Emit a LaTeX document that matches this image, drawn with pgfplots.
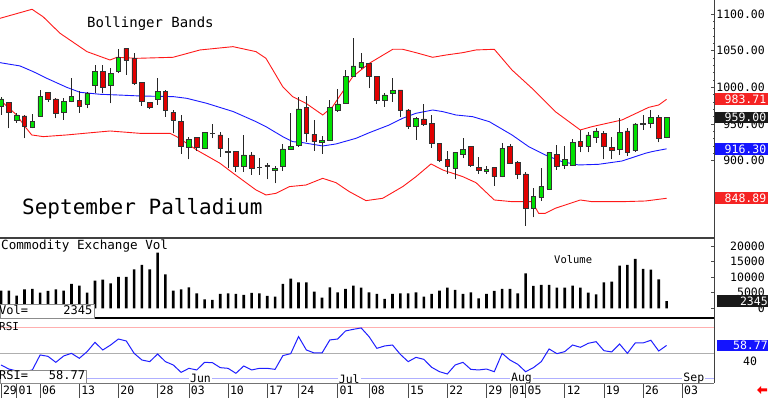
\documentclass[border=0pt]{standalone}
\usepackage{pgfplots}
\pgfplotsset{compat=1.18}
\usepackage{pgfplotstable}
\usepackage{fontspec}
\setmainfont{DejaVu Sans Mono}
\definecolor{cgreen}{RGB}{0,225,0}
\definecolor{cred}{RGB}{225,0,0}
\definecolor{bandred}{RGB}{255,25,25}
\definecolor{bandblue}{RGB}{25,25,255}
\definecolor{rsiblue}{RGB}{30,30,255}
\definecolor{line80}{RGB}{255,175,175}
\definecolor{line50}{RGB}{175,175,175}
\definecolor{line20}{RGB}{175,175,255}
\definecolor{boxred}{RGB}{245,35,35}
\definecolor{boxblue}{RGB}{20,20,255}
\definecolor{boxblack}{RGB}{25,25,25}

% candles: index, open, high, low, close
\pgfplotstableread{
x O H L C
0 973.8 987.4 962.4 984.2
2 954.7 964.7 952.0 962.4
4 945.6 963.8 944.3 953.3
5 961.1 996.5 960.1 987.4
8 966.0 985.1 955.6 980.6
9 980.6 1012.4 979.7 987.4
11 977.4 994.2 971.5 991.9
12 1003.3 1030.5 991.9 1021.4
14 1003.3 1026.0 978.3 1019.2
15 1021.4 1051.9 1019.2 1041.0
20 983.7 1012.4 976.0 994.2
24 918.4 932.9 902.0 929.3
26 917.0 939.7 915.6 938.3
29 911.6 930.6 889.8 912.4
31 892.9 935.2 885.2 907.9
33 890.7 903.4 880.7 891.5
35 887.5 893.4 869.3 889.8
36 892.0 922.9 886.1 916.1
37 916.1 965.6 914.7 919.3
38 920.6 987.4 919.3 970.6
41 924.7 933.8 909.3 927.9
42 928.4 982.8 927.4 972.8
43 968.3 997.4 967.0 977.4
44 978.3 1023.7 977.4 1015.5
45 1015.5 1066.9 1014.6 1029.2
46 1026.9 1047.3 1025.1 1034.2
49 981.9 992.8 973.8 989.7
50 991.9 1012.4 980.6 995.6
53 946.5 960.1 928.4 957.9
58 889.8 912.5 874.8 911.1
59 909.3 930.6 903.4 915.6
62 885.2 892.9 882.0 888.8
64 878.4 923.8 877.5 917.0
68 835.3 863.4 823.0 851.2
69 850.2 890.7 845.3 864.8
70 861.6 911.6 861.6 911.1
72 894.3 920.2 888.8 902.0
73 894.3 929.3 893.4 924.7
75 919.3 939.7 911.6 935.2
76 931.5 944.3 924.7 940.6
79 915.6 957.9 907.9 938.3
81 913.8 951.1 912.5 950.2
83 951.1 969.2 944.3 959.2
85 932.0 959.0 930.6 959.0
}\greenC

\pgfplotstableread{
x O H L C
1 979.7 980.6 944.3 965.6
3 961.1 962.4 930.6 946.5
6 992.8 994.2 980.6 983.7
7 984.2 985.1 957.9 964.7
10 982.8 995.6 965.6 973.8
13 1021.4 1030.5 991.9 1000.1
16 1053.2 1054.1 1016.9 1037.3
17 1039.6 1046.4 1003.3 1005.5
18 1006.4 1007.8 974.7 981.5
19 979.7 980.6 970.1 972.8
21 994.2 996.5 960.1 968.3
22 966.0 969.2 937.4 955.6
23 953.3 962.4 909.3 920.2
25 932.0 932.9 913.8 918.4
27 937.8 950.2 930.6 936.9
28 935.2 939.7 905.6 917.0
30 912.5 912.5 885.2 892.9
32 907.9 912.5 880.7 889.8
34 893.8 896.6 874.8 893.0
39 972.8 988.3 926.1 937.4
40 936.1 955.6 913.8 926.1
47 1032.8 1033.7 998.7 1014.6
48 1015.5 1015.5 977.4 982.8
51 996.5 996.5 959.2 968.3
52 969.2 970.1 943.3 946.5
54 957.0 976.9 947.4 950.2
55 951.1 962.4 917.9 923.8
56 923.8 924.7 897.9 900.2
57 902.0 913.8 882.0 892.0
60 919.3 920.2 892.0 893.4
61 890.7 904.7 882.0 886.6
63 890.7 892.0 866.1 878.4
65 919.3 922.9 895.7 896.6
66 897.9 899.7 874.8 882.0
67 882.0 885.2 811.2 835.3
71 908.8 921.5 887.5 892.0
74 926.1 942.0 911.6 919.3
77 937.4 940.6 902.0 919.3
78 917.9 932.9 902.0 914.7
80 940.6 944.3 907.0 911.1
82 950.6 962.4 942.0 949.7
84 959.2 962.4 925.2 930.6
}\redC

\pgfplotstableread{
x y
-0.13 1094.1
3.96 1106.4
5.36 1096.4
7.54 1073.7
10.98 1048.7
13.92 1037.3
14.81 1041.0
17.37 1039.6
21.97 1041.0
25.42 1051.0
29.63 1055.5
32.57 1048.7
33.84 1039.6
35.98 1001.0
37.25 987.4
38.95 978.3
41.09 962.4
42.36 973.8
44.92 1014.6
47.04 1032.8
50.03 1051.9
51.30 1051.9
53.00 1047.3
55.13 1041.0
56.83 1044.1
58.97 1047.3
60.66 1051.0
63.00 1051.9
65.26 1023.7
67.82 998.7
70.79 967.0
73.98 942.0
75.48 946.5
79.31 955.6
82.72 972.8
84.00 976.0
85.00 983.71
}\bbup

\pgfplotstableread{
x y
-0.13 1033.7
2.43 1029.2
4.13 1021.4
5.84 1012.4
8.39 1000.1
10.09 993.3
12.64 990.6
14.78 989.7
17.75 988.3
22.00 987.4
23.72 985.1
26.27 978.3
29.67 967.0
32.57 953.3
33.84 946.5
35.98 932.9
37.25 926.1
38.53 924.7
41.09 920.2
42.78 922.9
45.34 930.6
47.04 938.3
49.59 948.8
51.30 957.9
53.00 964.7
55.13 969.2
56.41 967.0
58.11 962.4
60.24 960.1
62.36 953.3
65.26 935.2
67.39 919.3
69.51 907.9
71.65 898.8
73.78 894.3
76.33 895.2
79.31 899.7
82.29 910.2
83.14 912.5
85.00 916.30
}\bbmid

\pgfplotstableread{
x y
-0.13 982.8
2.00 962.4
3.07 946.5
3.92 935.2
5.40 932.9
8.39 935.2
13.92 940.6
17.75 937.4
21.58 937.4
22.44 932.9
24.99 914.7
27.97 896.6
29.67 882.9
32.57 860.2
33.84 853.4
35.12 855.7
36.82 864.8
38.95 867.0
41.09 876.1
42.78 870.2
44.48 858.0
46.61 845.7
48.75 848.9
51.30 864.8
53.00 878.4
54.92 895.7
56.41 887.5
58.97 878.4
60.66 870.2
63.00 846.6
65.26 844.3
67.82 844.3
68.67 828.4
69.51 828.4
70.79 835.3
72.07 839.8
73.98 846.6
75.48 844.3
79.31 844.3
82.29 845.2
85.00 848.89
}\bblow

\pgfplotstableread{
x v
0 5660
1 5660
2 4058
3 6088
4 6194
5 5020
6 5554
7 6088
8 5660
9 7796
10 7262
11 5020
12 8864
13 9185
14 8010
15 10039
16 10039
17 12496
18 13884
19 12496
20 17836
21 10894
22 5660
23 6088
24 6728
25 4806
26 2884
27 2670
28 4592
29 4806
30 4592
31 4272
32 4913
33 4806
34 3952
35 3738
36 7796
37 9505
38 8330
39 8330
40 5340
41 3418
42 6728
43 5126
44 6194
45 7262
46 6622
47 5126
48 4592
49 2990
50 4592
51 4806
52 4806
53 5126
54 3738
55 4592
56 5660
57 6622
58 5874
59 4592
60 5126
61 3204
62 4592
63 5554
64 6194
65 6194
66 4806
67 11214
68 7156
69 7476
70 7476
71 6622
72 6622
73 7262
74 6622
75 5020
76 4486
77 8330
78 8544
79 13670
80 13884
81 15806
82 12602
83 12389
84 9292
85 2345
}\vol

\pgfplotstableread{
x r
0 36.0
1 31.3
2 29.0
3 28.2
4 30.2
5 47.7
6 46.1
7 39.1
8 46.5
9 49.6
10 43.8
11 51.6
12 62.4
13 53.5
14 59.3
15 66.3
16 64.0
17 49.6
18 41.8
19 39.9
20 48.8
21 39.9
22 36.0
23 27.4
24 32.1
25 30.2
26 39.1
27 38.7
28 32.9
29 32.1
30 26.3
31 34.8
32 30.2
33 32.1
34 32.1
35 30.9
36 46.9
37 49.2
38 69.1
39 53.5
40 50.0
41 50.0
42 65.2
43 66.3
44 75.7
45 77.6
46 79.2
47 69.1
48 55.4
49 58.2
50 59.3
51 48.4
52 39.9
53 44.9
54 42.6
55 33.3
56 28.2
57 25.5
58 36.0
59 39.1
60 30.9
61 30.2
62 31.3
63 28.2
64 49.6
65 41.8
66 36.8
67 28.2
68 32.9
69 39.9
70 54.7
71 49.2
72 51.6
73 59.3
74 56.6
75 61.3
76 63.2
77 52.7
78 51.2
79 60.5
80 49.6
81 61.7
82 61.7
83 64.8
84 52.3
85 58.77
}\rsi

\pgfplotsset{
  panel/.style={scale only axis, width=714pt, xmin=-0.128, xmax=91.06,
    axis line style={draw=none}, tick style={black!70, line width=0.6pt},
    anchor=south west},
  rlabels/.style={yticklabel pos=right, ytick pos=right, xtick=\empty,
    tick align=inside, major tick length=3pt,
    yticklabel style={anchor=east, xshift=51pt, inner sep=0pt,
      font=\fontsize{11.5}{12}\selectfont}},
  pricebody/.style={panel, at={(0pt,160pt)}, height=238pt, ymin=794.8, ymax=1119.07,
    hide axis, ybar stacked, bar width=4.6pt},
  wick/.style={draw=none, mark=none, error bars/.cd, y dir=plus, y explicit, error mark=none,
    error bar style={draw=black!85, line width=0.9pt}},
}

\begin{document}
\begin{tikzpicture}[x=1pt,y=1pt]
\useasboundingbox (0,0) rectangle (768,398);

% ---------- price panel ----------
\begin{axis}[panel, rlabels, at={(0pt,160pt)}, height=238pt, ymin=794.8, ymax=1119.07,
  ytick={900,950,1000,1050,1100}, minor y tick num=4, minor tick length=1.5pt,
  yticklabel style={/pgf/number format/.cd, fixed, fixed zerofill, precision=2, 1000 sep={}, assume math mode=true}]
\addplot[bandred, line width=0.9pt] table[x=x, y=y] {\bbup};
\addplot[bandblue, line width=0.9pt] table[x=x, y=y] {\bbmid};
\addplot[bandred, line width=0.9pt] table[x=x, y=y] {\bblow};
\addplot[wick] table[x=x, y=L, y error expr=\thisrow{H}-\thisrow{L}] {\greenC};
\addplot[wick] table[x=x, y=L, y error expr=\thisrow{H}-\thisrow{L}] {\redC};
\coordinate (pUp) at (axis cs:91.06,983.71);
\coordinate (pLast) at (axis cs:91.06,959.00);
\coordinate (pMid) at (axis cs:91.06,916.30);
\coordinate (pLow) at (axis cs:91.06,848.89);
\end{axis}

% green bodies
\begin{axis}[pricebody]
\addplot[draw=none, fill=none] table[x=x, y=O] {\greenC};
\addplot[draw=black!80, fill=cgreen, line width=0.6pt] table[x=x, y expr=\thisrow{C}-\thisrow{O}] {\greenC};
\end{axis}
% red bodies
\begin{axis}[pricebody]
\addplot[draw=none, fill=none] table[x=x, y=C] {\redC};
\addplot[draw=black!80, fill=cred, line width=0.6pt] table[x=x, y expr=\thisrow{O}-\thisrow{C}] {\redC};
\end{axis}

% ---------- volume panel ----------
\begin{axis}[panel, rlabels, at={(0pt,80pt)}, height=80pt, ymin=-3097, ymax=22535,
  ytick={0,5000,10000,15000,20000}, scaled y ticks=false,
  yticklabel style={/pgf/number format/.cd, 1000 sep={}, assume math mode=true}]
\addplot[ybar, bar width=2.6pt, fill=black, draw=none] table[x=x, y=v] {\vol};
\coordinate (vLast) at (axis cs:91.06,2345);
\end{axis}

% ---------- RSI panel ----------
\begin{axis}[panel, at={(0pt,15pt)}, height=65pt, ymin=15, ymax=90.8,
  ytick={40}, yticklabel pos=right, ytick pos=right,
  tick align=outside, major tick length=15pt,
  y tick style={draw=none},
  yticklabel style={anchor=west, xshift=14pt, inner sep=0pt, font=\fontsize{11.5}{12}\selectfont,
    /pgf/number format/assume math mode=true},
  xtick={0,2,5,10,15,20,24,29,34,38,43,47,52,57,62,65,67,72,77,82,87},
  xticklabels={29,01,06,13,20,28,03,10,17,24,01,08,15,22,29,01,05,12,19,26,03},
  xtick pos=bottom,
  x tick style={black!70, line width=0.8pt},
  xticklabel style={anchor=base west, inner sep=0pt, xshift=1.8pt, yshift=3pt,
    font=\fontsize{11.5}{12}\selectfont}]
\addplot[line80, line width=0.8pt] coordinates {(-0.128,80) (91.06,80)};
\addplot[line50, line width=0.8pt] coordinates {(-0.128,50) (91.06,50)};
\addplot[line20, line width=0.8pt] coordinates {(-0.128,20) (91.06,20)};
\addplot[rsiblue, line width=1pt] table[x=x, y=r] {\rsi};
\node[anchor=west, fill=white, inner xsep=1pt, inner ysep=0.5pt, font=\fontsize{11.5}{12}\selectfont] at (axis cs:24,20) {Jun};
\node[anchor=west, fill=white, inner xsep=1pt, inner ysep=0.5pt, font=\fontsize{11.5}{12}\selectfont] at (axis cs:43,20) {Jul};
\node[anchor=west, fill=white, inner xsep=1pt, inner ysep=0.5pt, font=\fontsize{11.5}{12}\selectfont] at (axis cs:65,20) {Aug};
\node[anchor=west, fill=white, inner xsep=1pt, inner ysep=0.5pt, font=\fontsize{11.5}{12}\selectfont] at (axis cs:87,20) {Sep};
\coordinate (rLast) at (axis cs:91.06,58.77);
\end{axis}

% ---------- frame lines ----------
\draw[black!75, line width=2pt] (0,160) -- (714,160);
\draw[black, line width=2pt] (0,80) -- (714,80);
\draw[black!55, line width=0.8pt] (0,15) -- (714,15);
\draw[black!75, line width=1pt] (714,15) -- (714,398);

% ---------- texts ----------
\node[anchor=base west, inner sep=0pt, font=\fontsize{14}{16}\selectfont] at (87,370.7) {Bollinger Bands};
\node[anchor=base west, inner sep=0pt, font=\fontsize{21}{24}\selectfont] at (22,183) {September Palladium};
\node[anchor=base west, inner sep=0pt, font=\fontsize{12.6}{14}\selectfont] at (1,148) {Commodity Exchange Vol};
\node[anchor=base west, inner sep=0pt, font=\fontsize{10.5}{12}\selectfont] at (554,134) {Volume};
\node[anchor=base west, inner sep=0pt, font=\fontsize{11}{12}\selectfont] at (-1,67.3) {RSI};

% value boxes
\node[draw=black!45, fill=white, anchor=south west, inner sep=0pt, minimum width=94pt, minimum height=14pt] at (0,80) {};
\node[anchor=base west, inner sep=0pt, font=\fontsize{12}{13}\selectfont] at (-1,83) {Vol=};
\node[anchor=base east, inner sep=0pt, font=\fontsize{12}{13}\selectfont] at (92.5,83) {2345};
\node[draw=black!45, fill=white, anchor=south west, inner sep=0pt, minimum width=86pt, minimum height=13pt] at (0,15) {};
\node[anchor=base west, inner sep=0pt, font=\fontsize{12}{13}\selectfont] at (-1,18) {RSI=};
\node[anchor=base east, inner sep=0pt, font=\fontsize{12}{13}\selectfont] at (85.3,18) {58.77};

\tikzset{vbox/.style={anchor=west, text=white, inner xsep=2pt, inner ysep=0pt,
  minimum height=11.7pt, text width=49pt, align=right, font=\fontsize{11.5}{12}\selectfont}}
\node[vbox, fill=boxred] at ([xshift=1pt]pUp) {983.71};
\node[vbox, fill=boxblack] at ([xshift=1pt]pLast) {959.00};
\node[vbox, fill=boxblue] at ([xshift=1pt]pMid) {916.30};
\node[vbox, fill=boxred] at ([xshift=1pt]pLow) {848.89};
\node[vbox, fill=boxblack] at ([xshift=2.5pt]vLast) {2345};
\node[vbox, fill=boxblue] at ([xshift=2.5pt]rLast) {58.77};

% red arrow
\fill[red] (757,8) -- (761,12) -- (761,9.5) -- (767,9.5) -- (767,6.5) -- (761,6.5) -- (761,4) -- cycle;
\end{tikzpicture}
\end{document}
